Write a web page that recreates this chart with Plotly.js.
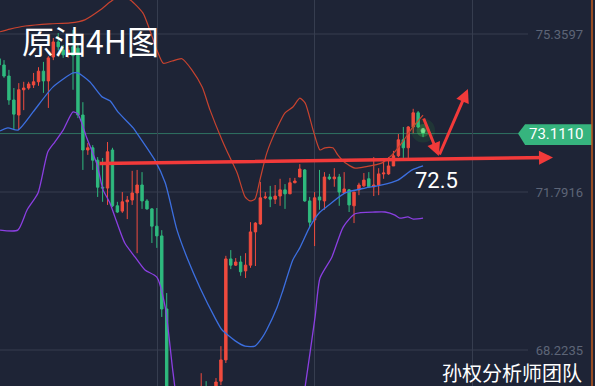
<!DOCTYPE html>
<html>
<head>
<meta charset="utf-8">
<script src="https://cdn.plot.ly/plotly-3.0.1.min.js"></script>
<style>html,body{margin:0;padding:0;background:#1e2436;}#chart{width:595px;height:386px;}</style>
</head>
<body>
<div id="chart"></div>
<script>
// Candle index (4H bars)
const idx = [-1,0,1,2,3,4,5,6,7,8,9,10,11,12,13,14,15,16,17,18,19,20,21,22,23,24,25,26,27,28,29,30,31,32,33,34,35,36,37,38,39,40,41,42,43,44,45,46,47,48,49,50,51,52,53,54,55,56,57,58,59,60,61,62,63,64,65,66,67,68,69,70,71,72,73,74,75,76,77,78,79,80,81,82,83,84,85];
const openP = [74.80,74.66,74.41,73.87,73.53,74.10,74.14,74.21,74.28,74.52,74.30,74.84,75.18,75.00,74.89,75.07,75.04,73.53,72.74,72.79,72.51,71.90,71.88,72.74,71.48,71.36,71.57,71.61,71.77,71.95,71.59,71.41,71.02,70.80,69.15,67.05,66.80,66.95,66.60,66.40,66.70,66.50,67.00,66.85,67.20,67.52,68.00,70.28,70.14,70.21,70.01,70.14,70.89,71.07,71.66,71.68,71.63,71.70,71.84,71.75,72.00,72.13,72.29,71.59,71.16,71.68,71.59,72.13,72.09,72.13,71.77,71.84,71.48,71.84,71.93,72.09,71.91,71.95,72.20,72.20,72.38,72.61,72.97,72.79,73.26,73.58,73.19];
const highP = [74.85,74.77,74.55,74.14,74.25,74.28,74.28,74.48,74.61,74.73,74.86,75.27,75.38,75.11,75.07,75.45,75.11,73.82,72.90,72.85,72.58,72.56,72.92,72.79,71.57,71.79,71.70,72.27,72.29,72.24,71.63,71.43,71.43,70.93,69.51,67.20,67.15,67.05,66.75,66.90,67.00,67.70,67.52,67.30,67.59,68.31,70.35,70.48,70.30,70.35,70.41,71.11,71.11,72.02,71.79,71.93,71.95,72.09,71.97,72.11,72.11,72.42,72.31,71.68,71.79,72.29,72.24,72.20,72.33,72.20,72.24,71.86,71.79,72.00,72.22,72.24,72.58,72.33,72.56,72.58,72.72,73.10,73.26,73.28,73.67,73.62,73.24];
const lowP = [74.60,74.37,73.76,73.19,73.19,73.64,74.10,74.14,74.19,74.03,73.69,74.77,74.99,74.82,74.82,74.10,73.46,72.29,72.63,72.29,71.68,71.57,71.50,71.45,71.32,71.32,71.18,71.50,70.41,71.41,71.39,70.64,70.53,68.97,66.90,66.60,66.55,66.40,66.20,66.25,66.35,66.40,66.70,66.70,67.10,67.43,67.93,70.05,70.12,69.90,69.85,70.08,70.12,71.05,71.63,71.45,71.52,71.48,71.41,71.75,71.99,72.13,71.57,71.00,70.57,71.39,71.39,72.06,71.91,71.48,71.77,71.34,71.09,71.72,71.91,71.88,71.70,71.72,72.09,72.18,72.38,72.58,72.56,72.56,73.12,73.24,73.03];
const closeP = [74.66,74.41,73.87,73.55,74.10,74.14,74.23,74.28,74.52,74.30,74.82,75.18,75.07,74.89,75.00,74.87,73.53,72.74,72.79,72.51,71.90,71.88,72.70,71.48,71.34,71.57,71.61,71.77,71.95,71.59,71.41,71.02,70.80,69.15,67.05,66.80,66.95,66.60,66.40,66.70,66.50,67.00,66.85,67.10,67.50,68.00,70.28,70.14,70.21,69.99,70.14,70.89,71.09,71.66,71.68,71.63,71.70,71.84,71.75,72.00,72.04,72.31,71.59,71.11,71.66,71.61,72.13,72.09,72.13,71.79,71.86,71.50,71.79,71.95,72.06,71.91,71.95,72.20,72.22,72.38,72.61,72.97,72.79,73.26,73.58,73.26,73.111];

// Bollinger bands (read at sample bar positions)
const upperX = [-0.8,1.2,4.3,9.3,13.4,16.4,19.5,21.5,23.5,25.6,28.2,31.0,32.3,34.1,36.1,38.1,40.2,41.8,44.2,45.4,47.3,48.9,49.9,50.9,51.9,53.3,55.4,57.0,58.6,60.0,61.1,62.7,64.1,65.1,66.7,67.7,69.2,71.2,73.2,76.7,78.7,80.7,82.8,85.0];
const upperY = [75.41,75.47,75.54,75.59,75.61,75.68,75.90,76.08,76.22,76.13,75.83,75.00,74.70,74.75,74.80,74.55,74.16,73.64,72.97,72.67,72.22,71.68,71.59,71.63,72.06,72.67,73.24,73.58,73.71,73.91,73.80,73.19,72.74,72.79,72.79,72.63,72.45,72.33,72.36,72.45,72.63,72.90,73.24,73.53];
const midX = [-0.8,0.8,2.8,5.9,9.9,14.0,15.0,17.4,19.9,21.5,23.1,26.2,27.2,30.6,32.7,35.1,37.3,39.8,42.8,44.2,46.9,48.9,50.9,52.3,53.3,55.4,56.6,58.6,60.0,62.1,64.1,65.7,69.2,73.2,76.7,79.9,82.8,85.0];
const midY = [73.17,73.24,73.19,73.60,74.16,74.48,74.48,74.28,73.94,73.85,73.60,73.24,73.08,72.51,72.00,70.93,70.26,69.62,68.95,68.68,68.43,68.31,68.31,68.49,68.68,69.19,69.58,70.26,70.53,71.02,71.34,71.48,71.77,71.88,71.95,72.06,72.29,72.38];
const lowerX = [-0.8,2.8,4.7,6.9,8.9,10.3,12.0,14.0,15.0,16.8,18.9,20.1,21.5,22.5,24.5,26.6,28.6,31.0,32.7,34.3,35.7,39.8,49.9,58.0,60.0,61.1,63.1,64.1,66.5,68.8,71.2,75.3,77.3,79.3,80.3,81.9,83.0,85.0];
const lowerY = [70.93,70.93,71.39,71.77,72.70,72.92,73.19,73.60,73.55,73.01,72.40,71.84,71.54,71.23,70.64,70.32,70.03,69.87,69.19,67.70,66.64,65.51,64.84,65.74,66.64,67.41,68.97,69.85,70.32,71.00,71.30,71.34,71.34,71.27,71.20,71.23,71.18,71.20];

// Axis ticks
const yTicks = [68.2235, 71.7916, 75.3597];
const yTickText = ['68.2235', '71.7916', '75.3597'];
const xGrid = [31.04, 63.08, 94.93];
const lastPrice = 73.111;
const supportLevel = 72.5;

const RED = '#f04b3e', GREEN = '#2fba7e';

const traces = [
  {type:'scatter', mode:'lines', x:upperX, y:upperY, line:{color:'#c8432f', width:1.2, shape:'spline', smoothing:0.6}, hoverinfo:'skip'},
  {type:'scatter', mode:'lines', x:midX, y:midY, line:{color:'#3c6fe0', width:1.3, shape:'spline', smoothing:0.6}, hoverinfo:'skip'},
  {type:'scatter', mode:'lines', x:lowerX, y:lowerY, line:{color:'#8b3fe2', width:1.3, shape:'spline', smoothing:0.6}, hoverinfo:'skip'},
  {type:'candlestick', x:idx, open:openP, high:highP, low:lowP, close:closeP,
   increasing:{line:{color:RED, width:1}, fillcolor:RED},
   decreasing:{line:{color:GREEN, width:1}, fillcolor:GREEN},
   whiskerwidth:0, hoverinfo:'skip'},
  {type:'scatter', mode:'markers', x:[85,85,85], y:[73.18,73.18,73.18],
   marker:{size:[24,13,5], color:['rgba(60,230,60,0.13)','rgba(90,245,90,0.3)','rgba(170,255,170,0.75)'], line:{width:0}}, hoverinfo:'skip'}
];

const gridC = '#363d4f';
const layout = {
  width:595, height:386,
  margin:{l:0, r:3, t:0, b:0, pad:0},
  paper_bgcolor:'#1e2436', plot_bgcolor:'#1e2436',
  showlegend:false,
  font:{family:'Noto Sans, Roboto, sans-serif', color:'#ffffff'},
  xaxis:{range:[-0.811, 119.27], tickvals:xGrid, showgrid:true, gridcolor:gridC, gridwidth:1,
         showticklabels:false, ticks:'', zeroline:false, showline:false, rangeslider:{visible:false}, fixedrange:true},
  yaxis:{range:[67.4105, 76.1275], side:'right', tickvals:yTicks, ticktext:yTickText,
         ticklabelposition:'inside', ticklabelstandoff:6, showgrid:false, zeroline:false, showline:false, ticks:'',
         tickfont:{color:'#5d6577', size:13, family:'Roboto, Noto Sans, sans-serif'}, fixedrange:true},
  shapes:[
    ...yTicks.map(v => ({type:'line', xref:'paper', yref:'y', x0:0, x1:0.892, y0:v, y1:v, line:{color:gridC, width:1}, layer:'below'})),
    {type:'line', xref:'paper', yref:'y', x0:0, x1:0.878, y0:lastPrice, y1:lastPrice, line:{color:'#2f7262', width:1}, layer:'below'},
    {type:'path', xref:'paper', yref:'y', path:'M0.875,73.111 L0.887,73.319 L1,73.319 L1,72.851 L0.887,72.851 Z', fillcolor:'#36b47e', line:{width:0}},
    {type:'line', xref:'paper', yref:'paper', x0:1, x1:1, y0:0, y1:1, line:{color:'#c05a1e', width:1.5}}
  ],
  annotations:[
    {xref:'paper', yref:'paper', x:0.034, y:0.897, xanchor:'left', yanchor:'middle', showarrow:false,
     text:'原油4H图', font:{family:'Noto Sans CJK SC', size:32, color:'#ffffff'}},
    {xref:'paper', yref:'paper', x:0.986, y:0.036, xanchor:'right', yanchor:'middle', showarrow:false,
     text:'孙权分析师团队', font:{family:'Noto Sans CJK SC', size:20, color:'#ffffff'}},
    {xref:'paper', yref:'y', x:0.94, y:lastPrice, xanchor:'center', yanchor:'middle', showarrow:false,
     text:lastPrice.toFixed(4), font:{family:'Roboto, Noto Sans', size:15, color:'#ffffff'}},
    {xref:'x', yref:'y', x:87.8, y:72.06, xanchor:'center', yanchor:'middle', showarrow:false,
     text:String(supportLevel), font:{family:'Roboto, Noto Sans', size:22, color:'#ffffff'}},
    {xref:'x', yref:'y', axref:'x', ayref:'y', x:111.36, y:72.571, ax:19.07, ay:72.435, text:'', showarrow:true,
     arrowhead:2, arrowsize:0.8, arrowwidth:3.5, arrowcolor:'#f23a3a', standoff:0, startstandoff:0},
    {xref:'x', yref:'y', axref:'x', ayref:'y', x:88.2, y:72.605, ax:85.0, ay:73.485, text:'', showarrow:true,
     arrowhead:2, arrowsize:0.9, arrowwidth:3, arrowcolor:'#f23a3a', standoff:0, startstandoff:0},
    {xref:'x', yref:'y', axref:'x', ayref:'y', x:94.1, y:74.118, ax:88.2, ay:72.605, text:'', showarrow:true,
     arrowhead:2, arrowsize:0.9, arrowwidth:3, arrowcolor:'#f23a3a', standoff:0, startstandoff:0}
  ]
};

Plotly.newPlot('chart', traces, layout, {staticPlot:true, displayModeBar:false});
</script>
</body>
</html>
